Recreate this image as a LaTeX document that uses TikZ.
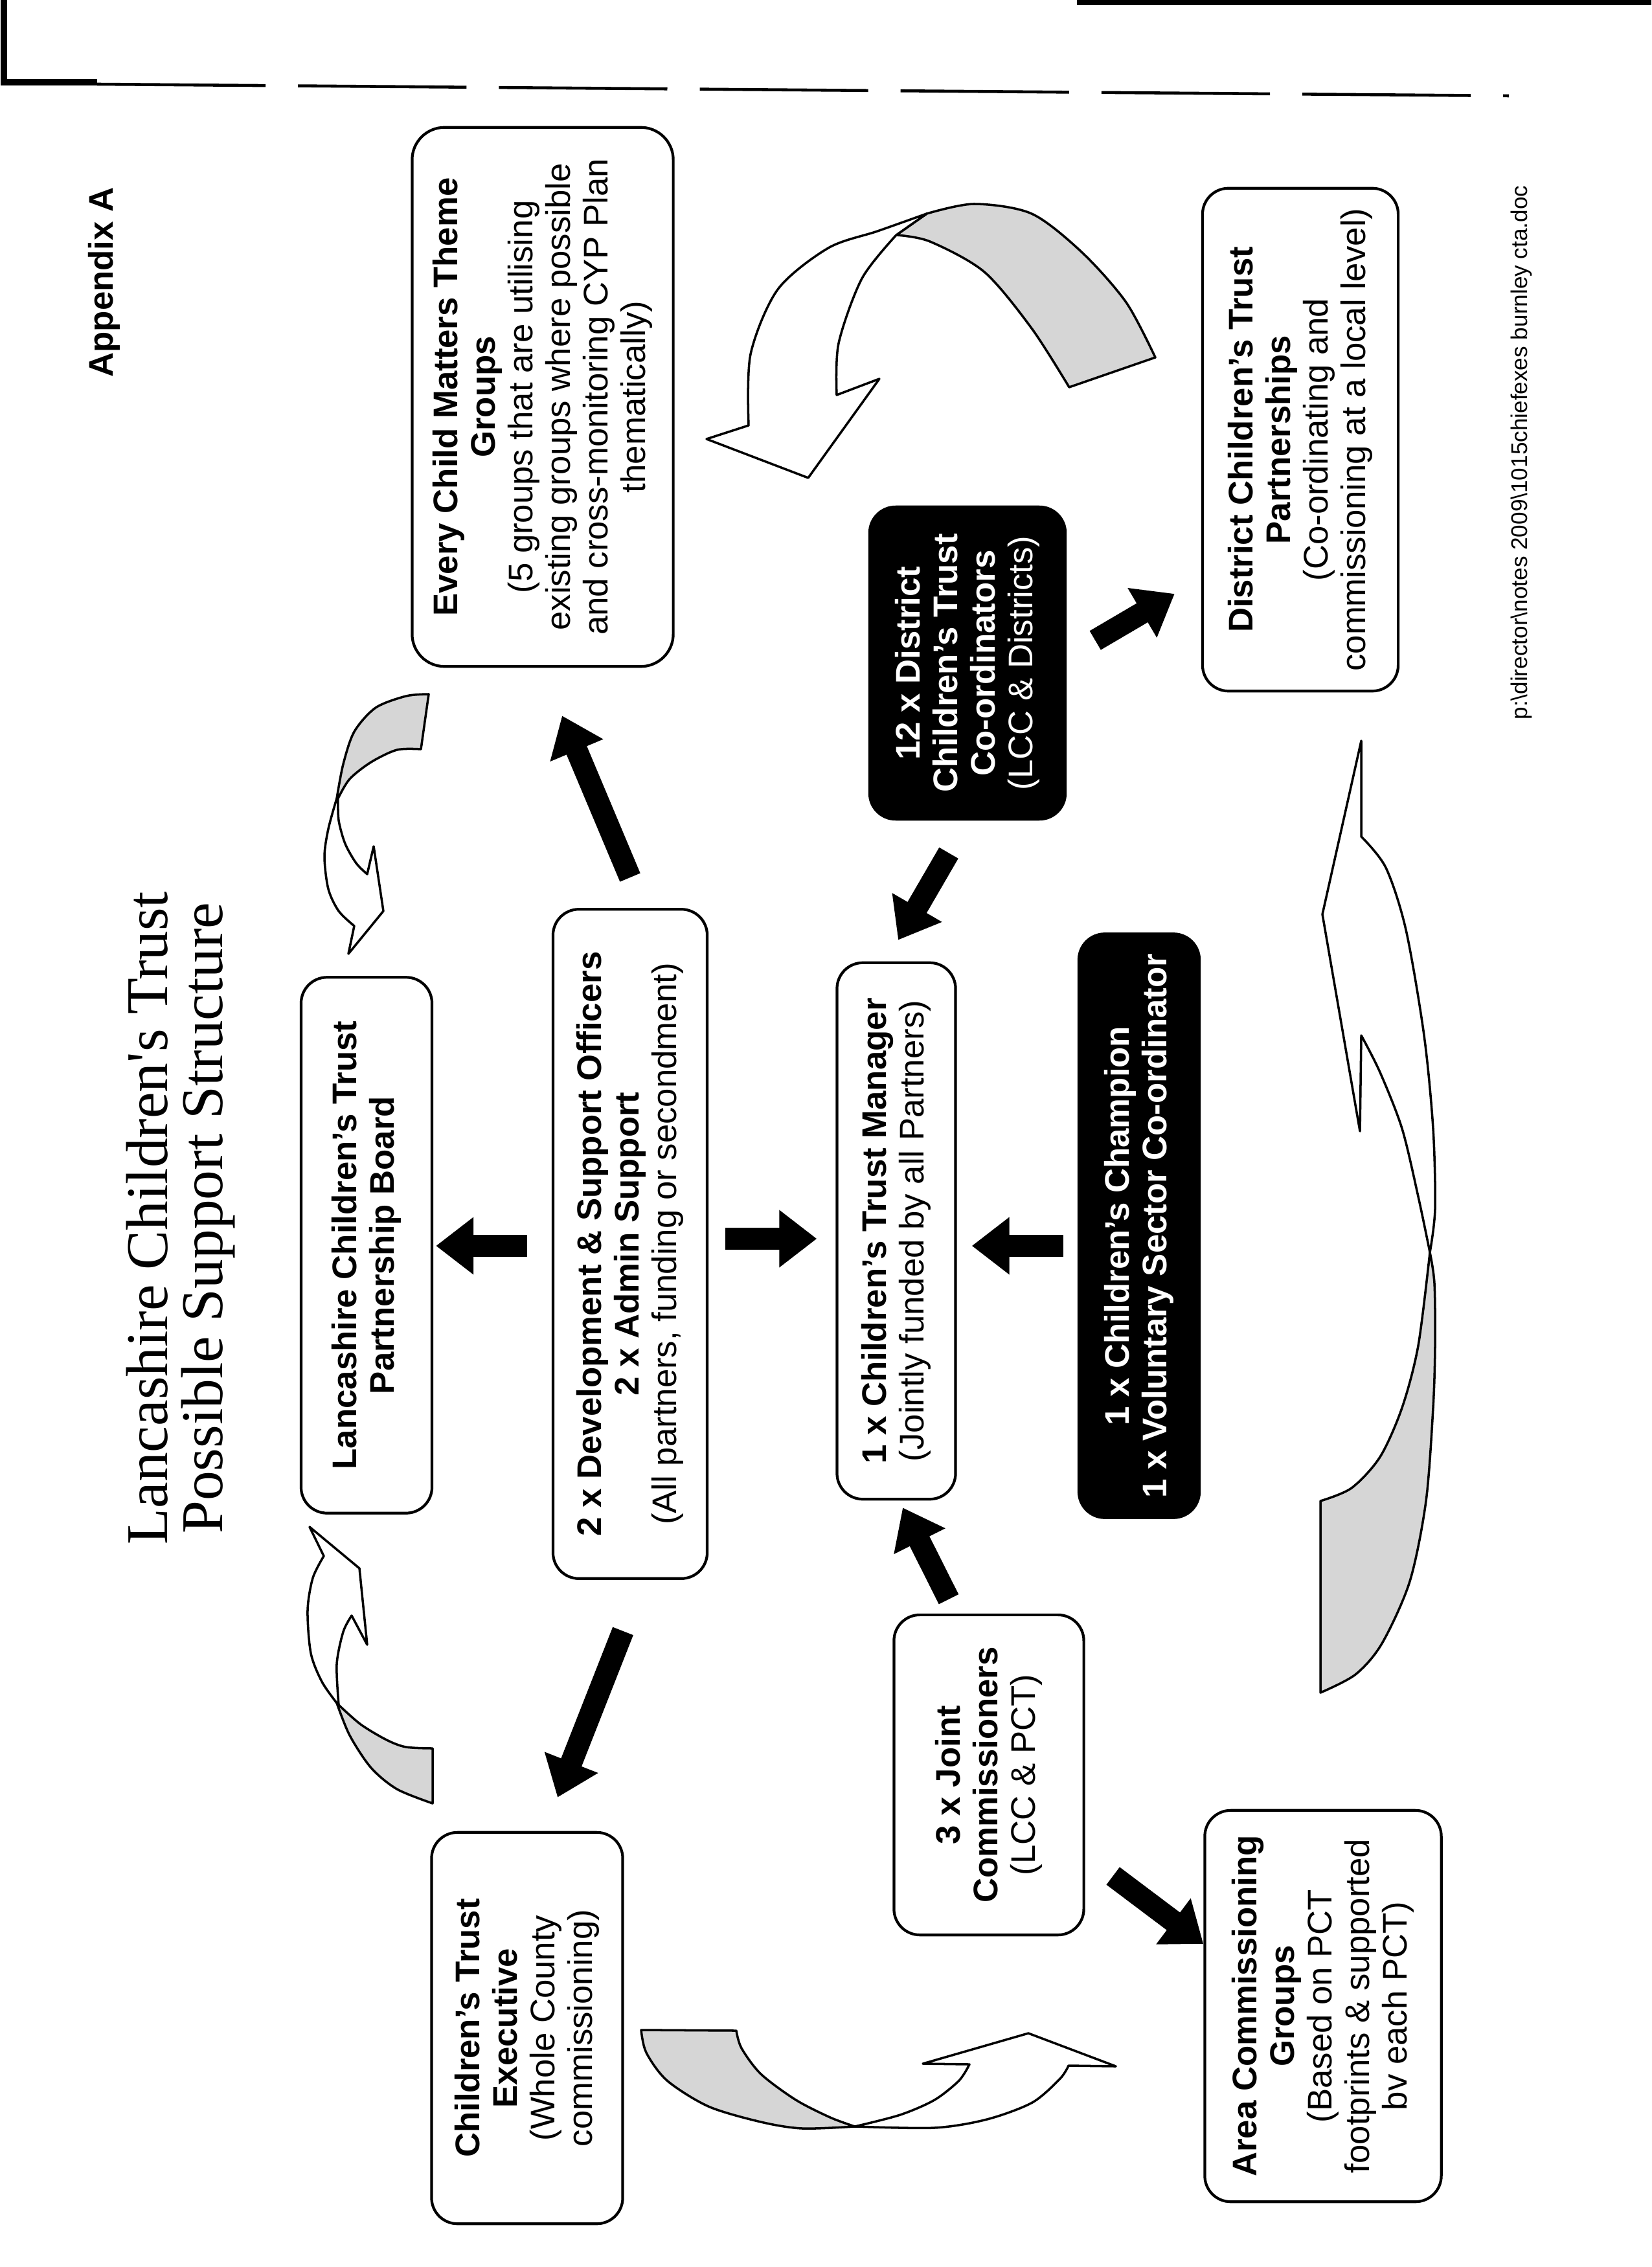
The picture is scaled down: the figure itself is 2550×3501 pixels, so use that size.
\documentclass[tikz,border=0pt]{standalone}
\usepackage{fontspec}
\setmainfont{Liberation Sans}
\newfontfamily\titlefont{Liberation Serif}
\usetikzlibrary{arrows.meta,calc}
\begin{document}
\begin{tikzpicture}[x=0.01cm,y=-0.01cm,
  box/.style={draw,line width=1.2pt,rounded corners=0.4cm,rotate=90,align=center,inner sep=0pt,font=\fontsize{15}{16.5}\selectfont},
  darkbox/.style={box,fill=black,text=white},
  blk/.style={line width=0.34cm,-{Triangle[length=0.58cm,width=0.85cm]}},
  ribbon/.style={draw,line width=1pt,line join=round},
  back/.style={ribbon,fill=black!16},
  front/.style={ribbon,fill=white}]
\useasboundingbox (0,0) rectangle (2550,3501);

% scanned page edge
\draw[line width=3pt] (6,0) -- (6,127) -- (150,127);
\draw[line width=1.3pt,dash pattern=on 2.6cm off 0.5cm] (150,130) -- (2330,148);
\draw[line width=2.5pt] (1663,4) -- (2550,4);

% headings
\node[rotate=90,font=\bfseries\fontsize{15}{18}\selectfont] (app) at (161,436) {Appendix A};
\node[rotate=90,align=center,font=\titlefont\fontsize{26}{24}\selectfont] (title) at (279,1881) {Lancashire Children's Trust\\Possible Support Structure};
\node[rotate=90,font=\fontsize{10}{12}\selectfont] (foot) at (2349,699) {p:\textbackslash director\textbackslash notes 2009\textbackslash 1015chiefexes burnley cta.doc};

% boxes
\node[box,minimum width=8.27cm,minimum height=2.02cm] (pb) at (566,1923) {\textbf{Lancashire Children's Trust}\\\textbf{Partnership Board}};
\node[box,minimum width=10.33cm,minimum height=2.38cm] (dev) at (973,1921) {\textbf{2 x Development \& Support Officers}\\\textbf{2 x Admin Support}\\(All partners, funding or secondment)};
\node[box,minimum width=8.28cm,minimum height=1.83cm] (mgr) at (1384,1901) {\textbf{1 x Children's Trust Manager}\\(Jointly funded by all Partners)};
\node[darkbox,minimum width=9.01cm,minimum height=1.86cm] (champ) at (1759,1893) {\textbf{1 x Children's Champion}\\\textbf{1 x Voluntary Sector Co-ordinator}};
\node[darkbox,minimum width=4.82cm,minimum height=3.02cm] (dct) at (1494,1024) {\textbf{12 x District}\\\textbf{Children's Trust}\\\textbf{Co-ordinators}\\(LCC \& Districts)};
\node[box,rounded corners=0.5cm,minimum width=8.32cm,minimum height=4.03cm] (ecm) at (838,613) {\textbf{Every Child Matters Theme}\\\textbf{Groups}\\(5 groups that are utilising\\existing groups where possible\\and cross-monitoring CYP Plan\\thematically)};
\node[box,minimum width=7.76cm,minimum height=3.02cm] (dcp) at (2008,679) {\textbf{District Children's Trust}\\\textbf{Partnerships}\\(Co-ordinating and\\commissioning at a local level)};
\node[box,minimum width=4.94cm,minimum height=2.93cm] (jc) at (1527,2741) {\textbf{3 x Joint}\\\textbf{Commissioners}\\(LCC \& PCT)};
\node[box,minimum width=6.04cm,minimum height=2.95cm] (cte) at (814,3132) {\textbf{Children's Trust}\\\textbf{Executive}\\(Whole County\\commissioning)};
\node[box,minimum width=6.04cm,minimum height=3.65cm] (acg) at (2043,3098) {\textbf{Area Commissioning}\\\textbf{Groups}\\(Based on PCT\\footprints \& supported\\bv each PCT)};

% block arrows
\draw[blk] ($(dev.north)+(-38,3)$) -- ($(pb.south)+(4,1)$);
\draw[blk] ($(dev.south)+(26,-8)$) -- ($(mgr.north)+(-29,12)$);
\draw[blk] ($(champ.north)+(-22,31)$) -- ($(mgr.south)+(23,23)$);
\draw[blk] ($(dev.east)+(0,-47)$) -- ($(ecm.west)+(30,74)$);
\draw[blk] ($(dev.west)+(-11,79)$) -- ($(cte.east)+(47,-52)$);
\draw[blk] ($(dct.west)+(-29,50)$) -- ($(mgr.east)+(3,-33)$);
\draw[blk] ($(dct.south)+(44,-35)$) -- ($(dcp.north)+(-41,238)$);
\draw[blk] ($(jc.east)+(-62,-22)$) -- ($(mgr.west)+(10,11)$);
\draw[blk] ($(jc.south)+(43,156)$) -- ($(acg.north)+(0,-96)$);

% curved ribbon arrow, top right
\path[back] plot[smooth] coordinates {(1431,330) (1504,315) (1593,330) (1671,390) (1739,467) (1784,552)} -- (1651,598) -- plot[smooth] coordinates {(1651,598) (1593,507) (1520,420) (1436,373) (1384,363)} -- cycle;
\path[front] plot[smooth] coordinates {(1431,330) (1355,357) (1279,383) (1201,447) (1159,547) (1156,657)} -- (1091,678) -- (1248,738) -- (1358,585) -- (1292,610) -- plot[smooth] coordinates {(1292,610) (1295,530) (1331,430) (1384,363)} -- cycle;

% small ribbon arrow above the board
\path[back] plot[smooth] coordinates {(520,1233) (530,1180) (547,1130) (580,1093) (627,1075) (662,1072)} -- (650,1157) -- plot[smooth] coordinates {(650,1157) (613,1158) (573,1177) (540,1203) (522,1233)} -- cycle;
\path[front] plot[smooth] coordinates {(520,1233) (507,1280) (501,1323) (507,1373) (523,1407) (547,1430)} -- (538,1473) -- (592,1407) -- (577,1307) -- (567,1350) -- plot[smooth] coordinates {(567,1350) (550,1333) (533,1303) (523,1267) (522,1233)} -- cycle;

% small ribbon arrow below the board
\path[back] plot[smooth] coordinates {(520,2630) (540,2680) (573,2730) (613,2763) (668,2785)} -- (668,2700) -- plot[smooth] coordinates {(668,2700) (627,2698) (597,2687) (557,2663) (523,2633)} -- cycle;
\path[front] plot[smooth] coordinates {(520,2630) (497,2597) (480,2553) (475,2487) (483,2437) (500,2403)} -- (478,2358) -- (555,2422) -- (567,2540) -- (543,2495) -- plot[smooth] coordinates {(543,2495) (530,2520) (520,2570) (523,2633)} -- cycle;

% bottom ribbon arrow
\path[back] (990,3135) -- (1137,3136) -- plot[smooth] coordinates {(1137,3136) (1145,3163) (1175,3203) (1229,3243) (1282,3270) (1320,3284)} -- plot[smooth] coordinates {(1320,3284) (1239,3287) (1175,3277) (1094,3253) (1030,3213) (998,3170) (990,3135)} -- cycle;
\path[front] plot[smooth] coordinates {(1320,3284) (1443,3286) (1524,3273) (1594,3247) (1637,3210) (1650,3190)} -- (1723,3191) -- (1588,3140) -- (1425,3187) -- (1497,3188) -- plot[smooth] coordinates {(1497,3188) (1481,3213) (1443,3243) (1390,3266) (1320,3284)} -- cycle;

% right ribbon arrow
\path[back] plot[smooth] coordinates {(2208,1934) (2215,1982) (2216,2078) (2213,2174) (2202,2318) (2177,2442) (2134,2538) (2093,2586) (2039,2614)} -- (2039,2318) -- plot[smooth] coordinates {(2039,2318) (2087,2298) (2131,2250) (2165,2174) (2190,2078) (2208,1934)} -- cycle;
\path[front] plot[smooth] coordinates {(2208,1934) (2216,1867) (2213,1743) (2199,1599) (2171,1436) (2140,1340) (2102,1292)} -- (2102,1144) -- (2042,1412) -- (2100,1747) -- (2102,1599) -- plot[smooth] coordinates {(2102,1599) (2131,1656) (2165,1743) (2190,1848) (2208,1934)} -- cycle;
\end{tikzpicture}
\end{document}
